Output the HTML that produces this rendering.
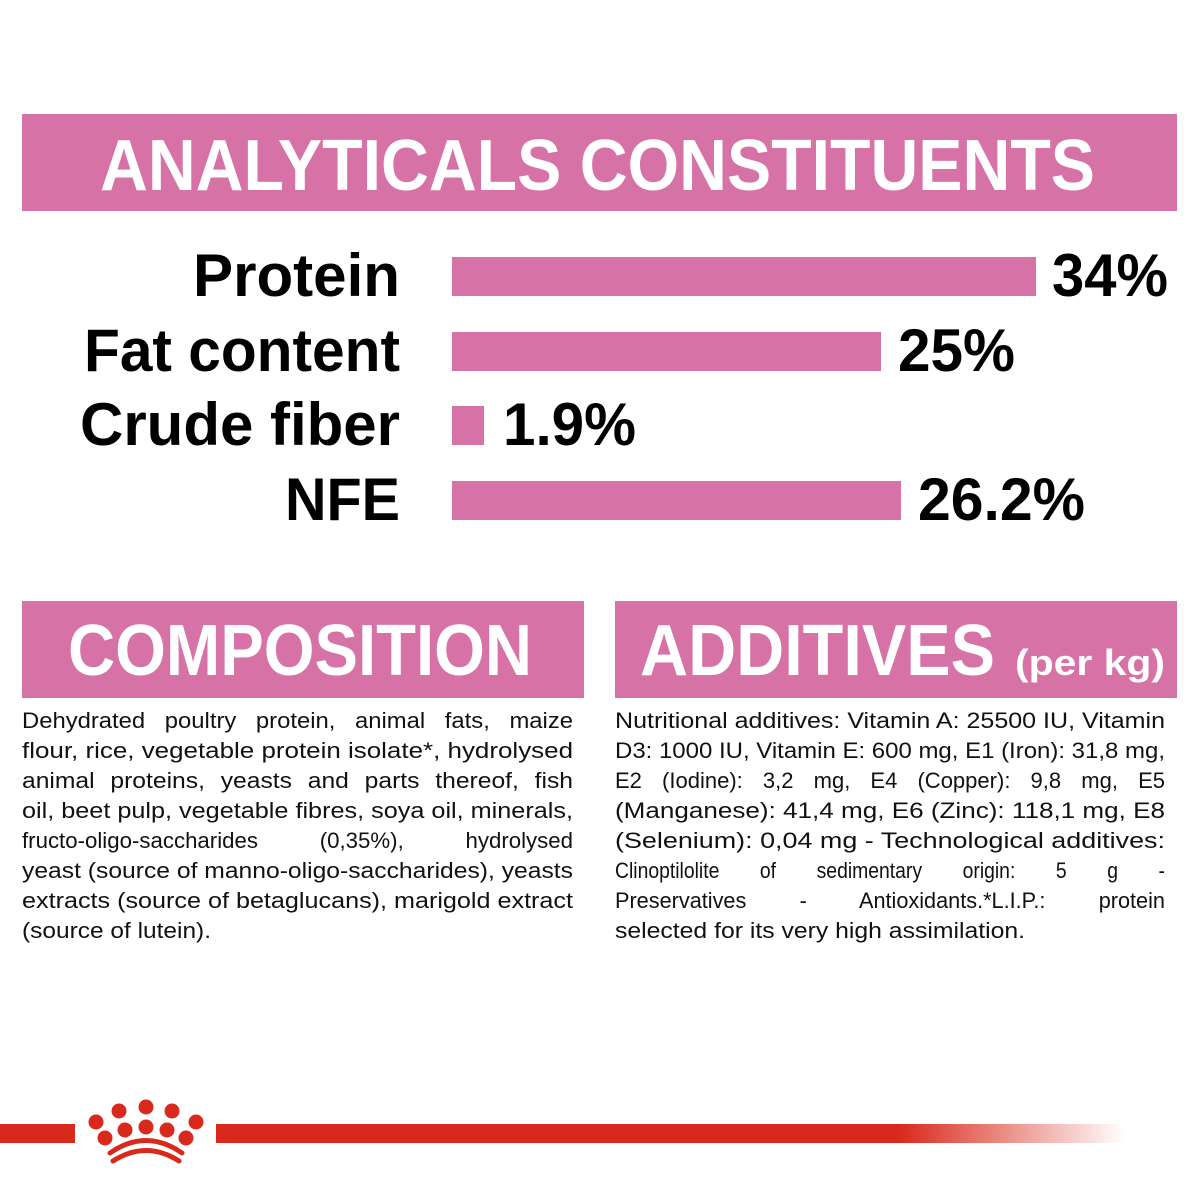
<!DOCTYPE html>
<html><head><meta charset="utf-8"><style>html,body{margin:0;padding:0;background:#fff}svg{display:block}</style></head>
<body>
<svg width="1200" height="1200" viewBox="0 0 1200 1200" xmlns="http://www.w3.org/2000/svg" font-family="'Liberation Sans', sans-serif">
<defs>
<linearGradient id="fade" x1="218" x2="1125" y1="0" y2="0" gradientUnits="userSpaceOnUse">
<stop offset="0" stop-color="#d9291c"/><stop offset="0.75" stop-color="#d9291c"/><stop offset="1" stop-color="#d9291c" stop-opacity="0"/>
</linearGradient>
</defs>
<rect x="0" y="0" width="1200" height="1200" fill="#fff"/>
<rect x="22" y="114" width="1155" height="97" fill="#d672a6"/>
<text x="100" y="190" font-size="72" font-weight="bold" fill="#fff" textLength="995" lengthAdjust="spacingAndGlyphs">ANALYTICALS CONSTITUENTS</text>

<g font-size="60" font-weight="bold" fill="#000">
<text x="193" y="296" textLength="207" lengthAdjust="spacingAndGlyphs">Protein</text>
<text x="84" y="371" textLength="316" lengthAdjust="spacingAndGlyphs">Fat content</text>
<text x="80" y="445" textLength="320" lengthAdjust="spacingAndGlyphs">Crude fiber</text>
<text x="285" y="520" textLength="115" lengthAdjust="spacingAndGlyphs">NFE</text>
<text x="1052" y="296" textLength="116" lengthAdjust="spacingAndGlyphs">34%</text>
<text x="898" y="371" textLength="117" lengthAdjust="spacingAndGlyphs">25%</text>
<text x="503" y="445" textLength="133" lengthAdjust="spacingAndGlyphs">1.9%</text>
<text x="918" y="520" textLength="167" lengthAdjust="spacingAndGlyphs">26.2%</text>
</g>
<g fill="#d672a6">
<rect x="452" y="257" width="584" height="39"/>
<rect x="452" y="332" width="429" height="39"/>
<rect x="452" y="406" width="32" height="39"/>
<rect x="452" y="481" width="449" height="39"/>
</g>

<rect x="22" y="601" width="562" height="97" fill="#d672a6"/>
<rect x="615" y="601" width="562" height="97" fill="#d672a6"/>
<text x="68" y="675" font-size="72" font-weight="bold" fill="#fff" textLength="464" lengthAdjust="spacingAndGlyphs">COMPOSITION</text>
<text x="640" y="675" font-size="72" font-weight="bold" fill="#fff" textLength="355" lengthAdjust="spacingAndGlyphs">ADDITIVES</text>
<text x="1015" y="675" font-size="36" font-weight="bold" fill="#fff" textLength="150" lengthAdjust="spacingAndGlyphs">(per kg)</text>

<g font-size="22" fill="#111">
<text x="22" y="728" textLength="551" lengthAdjust="spacingAndGlyphs" word-spacing="12">Dehydrated poultry protein, animal fats, maize</text>
<text x="22" y="758" textLength="551" lengthAdjust="spacingAndGlyphs">flour, rice, vegetable protein isolate*, hydrolysed</text>
<text x="22" y="788" textLength="551" lengthAdjust="spacingAndGlyphs" word-spacing="8">animal proteins, yeasts and parts thereof, fish</text>
<text x="22" y="818" textLength="551" lengthAdjust="spacingAndGlyphs">oil, beet pulp, vegetable fibres, soya oil, minerals,</text>
<text x="22" y="848" textLength="551" lengthAdjust="spacingAndGlyphs" word-spacing="55">fructo-oligo-saccharides (0,35%), hydrolysed</text>
<text x="22" y="878" textLength="551" lengthAdjust="spacingAndGlyphs">yeast (source of manno-oligo-saccharides), yeasts</text>
<text x="22" y="908" textLength="551" lengthAdjust="spacingAndGlyphs">extracts (source of betaglucans), marigold extract</text>
<text x="22" y="938" textLength="189" lengthAdjust="spacingAndGlyphs">(source of lutein).</text>

<text x="615" y="728" textLength="550" lengthAdjust="spacingAndGlyphs">Nutritional additives: Vitamin A: 25500 IU, Vitamin</text>
<text x="615" y="758" textLength="550" lengthAdjust="spacingAndGlyphs">D3: 1000 IU, Vitamin E: 600 mg, E1 (Iron): 31,8 mg,</text>
<text x="615" y="788" textLength="550" lengthAdjust="spacingAndGlyphs" word-spacing="14">E2 (Iodine): 3,2 mg, E4 (Copper): 9,8 mg, E5</text>
<text x="615" y="818" textLength="550" lengthAdjust="spacingAndGlyphs">(Manganese): 41,4 mg, E6 (Zinc): 118,1 mg, E8</text>
<text x="615" y="848" textLength="550" lengthAdjust="spacingAndGlyphs">(Selenium): 0,04 mg - Technological additives:</text>
<text x="615" y="878" textLength="550" lengthAdjust="spacingAndGlyphs" word-spacing="40">Clinoptilolite of sedimentary origin: 5 g -</text>
<text x="615" y="908" textLength="550" lengthAdjust="spacingAndGlyphs" word-spacing="48">Preservatives - Antioxidants.*L.I.P.: protein</text>
<text x="615" y="938" textLength="410" lengthAdjust="spacingAndGlyphs">selected for its very high assimilation.</text>
</g>

<rect x="0" y="1124" width="75" height="19" fill="#d9291c"/>
<rect x="216" y="1124" width="909" height="19" fill="url(#fade)"/>
<g fill="#d9291c">
<circle cx="96" cy="1122" r="7.5"/>
<circle cx="119" cy="1111" r="7.5"/>
<circle cx="146" cy="1107" r="7.5"/>
<circle cx="172" cy="1111" r="7.5"/>
<circle cx="196" cy="1122" r="7.5"/>
<circle cx="105" cy="1138" r="7.5"/>
<circle cx="125" cy="1130" r="7.5"/>
<circle cx="146" cy="1127" r="7.5"/>
<circle cx="167" cy="1130" r="7.5"/>
<circle cx="186" cy="1138" r="7.5"/>
</g>
<g fill="none" stroke="#d9291c" stroke-width="5" stroke-linecap="round">
<path d="M110 1153 Q146 1128 182 1153"/>
<path d="M113 1161 Q146 1140 179 1161"/>
</g>
</svg>
</body></html>
